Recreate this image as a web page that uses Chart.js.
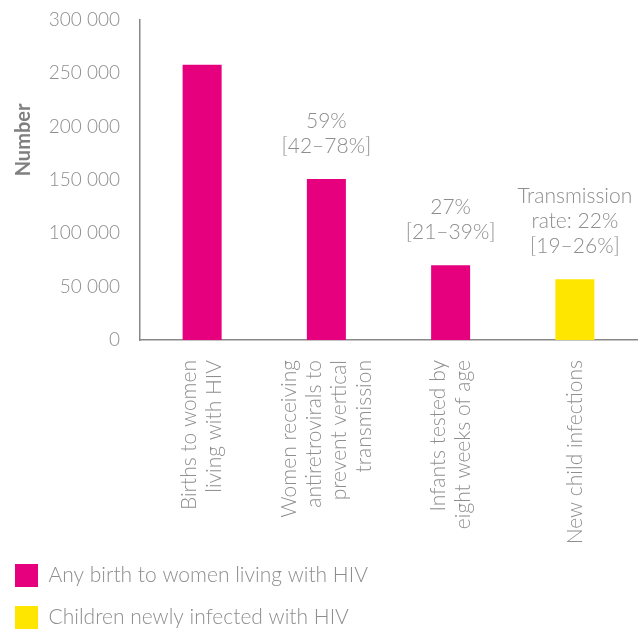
<!DOCTYPE html>
<html>
<head>
<meta charset="utf-8">
<script src="https://cdn.jsdelivr.net/npm/chart.js@4"></script>
<style>
  html, body { margin: 0; padding: 0; background: #fff; }
  #wrap { width: 640px; height: 633px; position: relative; }
</style>
</head>
<body>
<div id="wrap"><canvas id="c"></canvas></div>
<script>
const categories = [
  ["Births to women", "living with HIV"],
  ["Women receiving", "antiretrovirals to", "prevent vertical", "transmission"],
  ["Infants tested by", "eight weeks of age"],
  ["New child infections"]
];
const anyBirthValues = [258000, 151000, 70000, null];
const newInfectionValues = [null, null, null, 57000];
const seriesNames = ["Any birth to women living with HIV", "Children newly infected with HIV"];
const barNotes = [
  [],
  ["59%", "[42\u201378%]"],
  ["27%", "[21\u201339%]"],
  ["Transmission", "rate: 22%", "[19\u201326%]"]
];
const yAxisTitle = "Number";
const yMin = 0, yMax = 300000, yStep = 50000;

const PINK = "#E6007E";
const YELLOW = "#FFE600";
const GREY = "#8e8e8e";
const FONT = "Lato, 'Open Sans', sans-serif";

function fmt(v) { return String(v).replace(/\B(?=(\d{3})+(?!\d))/g, " "); }

const notesPlugin = {
  id: "notes",
  afterDatasetsDraw(chart) {
    const ctx = chart.ctx;
    ctx.save();
    ctx.font = "300 21px " + FONT;
    ctx.fillStyle = GREY;
    ctx.textAlign = "center";
    ctx.textBaseline = "middle";
    chart.data.datasets.forEach((ds, di) => {
      const meta = chart.getDatasetMeta(di);
      meta.data.forEach((bar, i) => {
        if (ds.data[i] == null) return;
        const lines = barNotes[i] || [];
        const n = lines.length;
        lines.forEach((t, k) => {
          ctx.fillText(t, bar.x, bar.y - 33 - (n - 1 - k) * 25);
        });
      });
    });
    ctx.restore();
  }
};

// Draws the x category labels rotated, lines centred on each tick of the x scale
const xLabelPlugin = {
  id: "xlabels",
  afterDraw(chart) {
    const ctx = chart.ctx;
    const xs = chart.scales.x;
    const lh = 25;
    ctx.save();
    ctx.font = "300 21px " + FONT;
    ctx.fillStyle = GREY;
    ctx.textAlign = "right";
    ctx.textBaseline = "middle";
    chart.data.labels.forEach((lab, i) => {
      const lines = Array.isArray(lab) ? lab : [lab];
      const px = xs.getPixelForTick(i);
      const n = lines.length;
      lines.forEach((t, k) => {
        ctx.save();
        ctx.translate(px + (k - (n - 1) / 2) * lh, xs.top + 20);
        ctx.rotate(-Math.PI / 2);
        ctx.fillText(t, 0, 0);
        ctx.restore();
      });
    });
    ctx.restore();
  }
};

const yTitlePlugin = {
  id: "ytitle",
  afterDraw(chart) {
    const ctx = chart.ctx;
    ctx.save();
    ctx.font = "bold 20px " + FONT;
    ctx.fillStyle = "#808080";
    ctx.textAlign = "center";
    ctx.textBaseline = "middle";
    ctx.translate(24, chart.chartArea.top + 120);
    ctx.rotate(-Math.PI / 2);
    ctx.fillText(yAxisTitle, 0, 0);
    ctx.restore();
  }
};

const legendShift = {
  id: "legendShift",
  afterLayout(chart) {
    if (chart.legend) {
      chart.legend.left -= 4;
      chart.legend.top += 6;
    }
  }
};

new Chart(document.getElementById("c"), {
  type: "bar",
  data: {
    labels: categories,
    datasets: [
      { label: seriesNames[0], data: anyBirthValues, backgroundColor: PINK, borderWidth: 0 },
      { label: seriesNames[1], data: newInfectionValues, backgroundColor: YELLOW, borderWidth: 0 }
    ]
  },
  options: {
    responsive: true,
    maintainAspectRatio: false,
    animation: false,
    categoryPercentage: 1,
    barPercentage: 0.314,
    layout: { padding: { left: 0, right: 3, top: 20, bottom: 0 } },
    plugins: {
      tooltip: { enabled: false },
      legend: {
        position: "bottom",
        align: "start",
        labels: {
          boxWidth: 23,
          boxHeight: 23,
          padding: 19,
          color: GREY,
          font: { family: FONT, size: 21, weight: 300 }
        }
      }
    },
    scales: {
      x: {
        stacked: true,
        grid: { display: false, drawTicks: false },
        border: { display: true, color: "#888", width: 1.5 },
        ticks: { display: false },
        afterFit(s) { s.height = 199; s.paddingTop = 0; s.paddingBottom = 0; }
      },
      y: {
        stacked: true,
        min: yMin,
        max: yMax,
        grid: { display: false, drawTicks: false },
        border: { display: true, color: "#888", width: 1.5 },
        ticks: {
          stepSize: yStep,
          padding: 20,
          color: GREY,
          font: { family: FONT, size: 19, weight: 300 },
          callback: (v) => fmt(v)
        },
        afterFit(s) { s.width = 140; s.paddingTop = 0; s.paddingBottom = 0; }
      }
    }
  },
  plugins: [notesPlugin, xLabelPlugin, yTitlePlugin, legendShift]
});
</script>
</body>
</html>
